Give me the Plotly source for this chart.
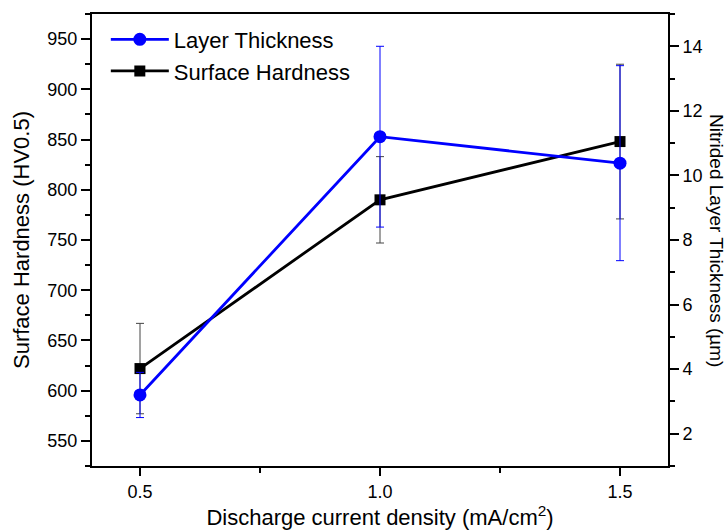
import plotly.graph_objects as go

current_density = [0.5, 1.0, 1.5]
hardness = [622, 790, 848]
hardness_err = [45, 43, 77]
thickness = [3.2, 11.2, 10.38]
thickness_err = [0.7, 2.8, 3.02]

FONT = "Arial, Liberation Sans, sans-serif"

fig = go.Figure()
fig.add_trace(go.Scatter(
    x=current_density, y=hardness, name="Surface Hardness", legendrank=2,
    mode="lines+markers",
    line=dict(color="black", width=2.8),
    marker=dict(symbol="square", size=11, color="black"),
    error_y=dict(type="data", array=hardness_err, color="#444444", thickness=1, width=4),
    yaxis="y", xaxis="x",
))
fig.add_trace(go.Scatter(
    x=current_density, y=thickness, name="Layer Thickness", legendrank=1,
    mode="lines+markers",
    line=dict(color="#0000FF", width=2.8),
    marker=dict(symbol="circle", size=13, color="#0000FF"),
    error_y=dict(type="data", array=thickness_err, color="#0000FF", thickness=1, width=4),
    yaxis="y2", xaxis="x",
))

tickfont = dict(family=FONT, size=18, color="black")
titlefont = dict(family=FONT, size=22, color="black")
fig.update_layout(
    width=728, height=530,
    margin=dict(l=92, r=60, t=14, b=64, autoexpand=False),
    paper_bgcolor="white", plot_bgcolor="white",
    font=dict(family=FONT, color="black"),
    showlegend=True,
    legend=dict(x=0.024, y=0.99, xanchor="left", yanchor="top",
                font=dict(family=FONT, size=22, color="black"),
                bgcolor="rgba(0,0,0,0)", itemwidth=58, tracegroupgap=13),
    xaxis=dict(range=[0.4, 1.6], tickvals=[0.5, 1.0, 1.5], ticktext=["0.5", "1.0", "1.5"],
               automargin=False,
               ticks="outside", ticklen=8, tickwidth=1.5, tickcolor="black",
               minor=dict(dtick=0.25, tick0=0.5, ticks="outside", ticklen=5, tickwidth=1.5, tickcolor="black", showgrid=False),
               showline=True, linewidth=2, linecolor="black", mirror=True,
               showgrid=False, zeroline=False, tickfont=tickfont,
               title=dict(text="Discharge current density (mA/cm<sup>2</sup>)",
                          font=titlefont, standoff=6)),
    xaxis2=dict(range=[0.4, 1.6], overlaying="x", side="top", matches="x",
                automargin=False,
                tickvals=[0.5, 1.0, 1.5], showticklabels=False,
                ticks="inside", ticklen=9, tickwidth=1.5, tickcolor="black",
                minor=dict(dtick=0.25, tick0=0.5, ticks="inside", ticklen=5, tickwidth=1.5, tickcolor="black", showgrid=False),
                showline=False, showgrid=False, zeroline=False),
    yaxis=dict(range=[525, 975], dtick=50, tick0=550, automargin=False,
               ticks="outside", ticklen=9, tickwidth=1.5, tickcolor="black",
               minor=dict(dtick=25, ticks="outside", ticklen=5, tickwidth=1.5, tickcolor="black", showgrid=False),
               showline=True, linewidth=2, linecolor="black",
               showgrid=False, zeroline=False, tickfont=tickfont,
               title=dict(text="Surface Hardness (HV0.5)", font=titlefont, standoff=12)),
    yaxis2=dict(range=[1, 15], dtick=2, tick0=2, overlaying="y", side="right", automargin=False,
                ticks="outside", ticklen=9, tickwidth=1.5, tickcolor="black",
                minor=dict(dtick=1, ticks="outside", ticklen=5, tickwidth=1.5, tickcolor="black", showgrid=False),
                showline=True, linewidth=2, linecolor="black",
                showgrid=False, zeroline=False, tickfont=tickfont),
    annotations=[dict(text="Nitrided Layer Thickness (\u00b5m)", textangle=90,
                      xref="paper", yref="paper", x=1.0, y=0.5, xanchor="center", yanchor="middle",
                      xshift=49, showarrow=False,
                      font=dict(family=FONT, size=19, color="black"))],
)

fig.write_html("out.html", config={"displayModeBar": False},
               post_script="document.body.style.margin='0';document.body.style.overflow='hidden';")
